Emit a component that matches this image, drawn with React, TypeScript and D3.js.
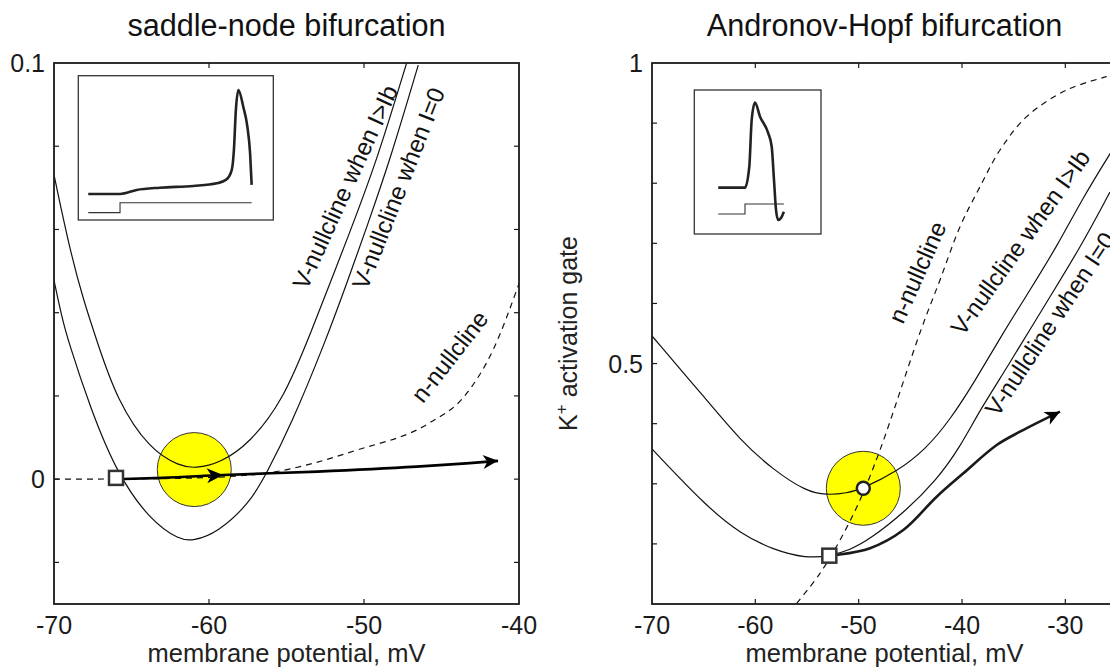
import React from "react";
import * as d3 from "d3";

type Pt = [number, number];

// ---- saddle-node panel (left) ----
const snXTicks = [-70, -60, -50, -40];
const snYTicks = [-0.02, 0, 0.02, 0.04, 0.06, 0.08, 0.1];
const snYLabels = [0, 0.1];

// V-nullcline when I > Ib
const snVnullAbove: Pt[] = [
  [-70, 0.0731], [-68.97, 0.055], [-68.1, 0.043], [-67.25, 0.0334], [-65.95, 0.019],
  [-63.8, 0.007], [-61.87, 0.0031], [-60.9, 0.0026], [-59.3, 0.0038], [-57.35, 0.0087],
  [-55.23, 0.019], [-53.61, 0.0334], [-50.77, 0.0607], [-49.16, 0.0767], [-47.25, 0.1],
];
// V-nullcline when I = 0
const snVnullRest: Pt[] = [
  [-70, 0.0478], [-69.5, 0.039], [-69.1, 0.0334], [-67.68, 0.0173], [-65.95, 0.0014],
  [-63.8, -0.0099], [-61.87, -0.0147], [-61.03, -0.0148], [-59.5, -0.013], [-57.35, -0.0057],
  [-56.28, 0.0015], [-54.77, 0.0125], [-52.45, 0.0334], [-51.03, 0.0479], [-49.81, 0.0607],
  [-48.32, 0.0767], [-46.5, 0.0995],
];
const snNnull: Pt[] = [
  [-70, 0], [-64, 0.0001], [-60, 0.0004], [-58, 0.0008], [-56.2, 0.0015], [-50.45, 0.007],
  [-45.83, 0.0134], [-43.55, 0.0198], [-41.68, 0.031], [-40, 0.047],
];
const snTrajectory: Pt[] = [
  [-65.95, 0], [-63, 0.0003], [-59.1, 0.001], [-53, 0.0018], [-46.6, 0.003], [-43.4, 0.0038], [-41.35, 0.0044],
];
const snNode: Pt = [-66, 0.0003];
const snSpot: Pt = [-60.95, 0.0023];
// inset: time 0..100, voltage / current 0..100 of the inset box
const snInsetVoltage: Pt[] = [
  [5.1, 18], [21.4, 18], [29.9, 20.8], [41.9, 22.4], [59, 23.6], [71, 25.4], [76.1, 28.2],
  [78.7, 34.7], [79.8, 48.5], [80.8, 76.2], [82.1, 90.1], [84.6, 78.5], [86.7, 64.7], [88.1, 46.2], [88.9, 24.3],
];
const snInsetCurrent: Pt[] = [[5.1, 5.1], [21.4, 5.1], [21.4, 12], [88.9, 12]];

// ---- Andronov-Hopf panel (right) ----
const ahXTicks = [-70, -60, -50, -40, -30];
const ahYTicks = [0.2, 0.3, 0.4, 0.5, 0.6, 0.7, 0.8, 0.9, 1];
const ahYLabels = [0.5, 1];

const ahVnullAbove: Pt[] = [
  [-70, 0.5459], [-64.71, 0.4394], [-61.48, 0.3728], [-58.26, 0.3229], [-55.03, 0.2868],
  [-53.09, 0.2813], [-51.16, 0.2842], [-49.55, 0.2925], [-46.32, 0.3201], [-43.58, 0.3562],
  [-41.16, 0.4061], [-38.74, 0.471], [-36.32, 0.5425], [-33.42, 0.6224], [-30.83, 0.6944],
  [-28.26, 0.7771], [-25.65, 0.8498],
];
const ahVnullRest: Pt[] = [
  [-70, 0.3579], [-64.71, 0.2619], [-61.48, 0.2176], [-58.26, 0.1898], [-55.03, 0.176],
  [-52.84, 0.1799], [-50.84, 0.1898], [-48.9, 0.2081], [-45.68, 0.2509], [-42.45, 0.3063],
  [-40.19, 0.3612], [-38.26, 0.4227], [-35.67, 0.4926], [-31.8, 0.6024], [-28.58, 0.6922], [-25.68, 0.7854],
];
const ahNnull: Pt[] = [
  [-56, 0.101], [-53.74, 0.151], [-51.8, 0.2065], [-49.87, 0.273], [-47.94, 0.356], [-43.97, 0.556],
  [-42.13, 0.639], [-40.19, 0.7277], [-38.26, 0.7942], [-36.32, 0.8553], [-33.74, 0.9107],
  [-29.87, 0.9551], [-26, 0.9772],
];
const ahTrajectory: Pt[] = [
  [-52.84, 0.1804], [-52.13, 0.1815], [-48.9, 0.1928], [-45.68, 0.2231], [-42.45, 0.2785],
  [-39.87, 0.3174], [-36.64, 0.3645], [-34.39, 0.3866], [-30.52, 0.42],
];
const ahNode: Pt = [-52.84, 0.1804];
const ahFocus: Pt = [-49.55, 0.2925];
const ahInsetVoltage: Pt[] = [
  [18.9, 32.2], [40, 32.2], [43.4, 46.7], [45.3, 79.2], [47.9, 91.2], [51.9, 81.5], [58.4, 69.9],
  [61.1, 60.6], [62.9, 37.5], [64.5, 16.7], [66.2, 9.7], [68.4, 11.1], [70.7, 15.5],
];
const ahInsetCurrent: Pt[] = [[18.9, 13.9], [40, 13.9], [40, 20.8], [70.7, 20.8]];

const FONT = "'Liberation Sans', Arial, Helvetica, sans-serif";
const INK = "#1a1a1a";
const W = 1110;
const H = 667;

type Box = { x0: number; x1: number; y0: number; y1: number };
type Scale = d3.ScaleLinear<number, number>;

function Arrowhead({ from, to, size = 15 }: { from: Pt; to: Pt; size?: number }) {
  const a = (Math.atan2(to[1] - from[1], to[0] - from[0]) * 180) / Math.PI;
  return (
    <path
      d={`M0,0 L${-size},${-size * 0.47} L${-size * 0.72},0 L${-size},${size * 0.47} Z`}
      transform={`translate(${to[0]},${to[1]}) rotate(${a})`}
      fill="#000"
    />
  );
}

function Inset({ box, voltage, current }: { box: Box; voltage: Pt[]; current: Pt[] }) {
  const x = d3.scaleLinear().domain([0, 100]).range([box.x0, box.x1]);
  const y = d3.scaleLinear().domain([0, 100]).range([box.y1, box.y0]);
  const smooth = d3.line<Pt>().x((d) => x(d[0])).y((d) => y(d[1])).curve(d3.curveMonotoneX);
  const step = d3.line<Pt>().x((d) => x(d[0])).y((d) => y(d[1]));
  return (
    <g>
      <rect x={box.x0} y={box.y0} width={box.x1 - box.x0} height={box.y1 - box.y0} fill="#fff" stroke="#333" strokeWidth={1.3} />
      <path d={step(current) ?? ""} fill="none" stroke="#333" strokeWidth={1.1} />
      <path d={smooth(voltage) ?? ""} fill="none" stroke="#222" strokeWidth={2.6} strokeLinejoin="round" />
    </g>
  );
}

function Frame({
  id, box, xDomain, yDomain, xTicks, yTicks, yLabels, title, children,
}: {
  id: string; box: Box; xDomain: [number, number]; yDomain: [number, number];
  xTicks: number[]; yTicks: number[]; yLabels: number[]; title: string;
  children: (x: Scale, y: Scale) => React.ReactNode;
}) {
  const x = d3.scaleLinear().domain(xDomain).range([box.x0, box.x1]);
  const y = d3.scaleLinear().domain(yDomain).range([box.y1, box.y0]);
  const tk = 5;
  const innerX = xTicks.filter((t) => t > xDomain[0] && t < xDomain[1]);
  const innerY = yTicks.filter((t) => t > yDomain[0] && t < yDomain[1]);
  return (
    <g>
      <defs>
        <clipPath id={id}>
          <rect x={box.x0} y={box.y0} width={box.x1 - box.x0} height={box.y1 - box.y0} />
        </clipPath>
      </defs>
      <g clipPath={`url(#${id})`}>{children(x, y)}</g>
      <rect x={box.x0} y={box.y0} width={box.x1 - box.x0} height={box.y1 - box.y0} fill="none" stroke={INK} strokeWidth={1.8} />
      {innerX.map((t) => (
        <g key={`x${t}`} stroke={INK} strokeWidth={1.2}>
          <line x1={x(t)} x2={x(t)} y1={box.y1} y2={box.y1 - tk} />
          <line x1={x(t)} x2={x(t)} y1={box.y0} y2={box.y0 + tk} />
        </g>
      ))}
      {innerY.map((t) => (
        <g key={`y${t}`} stroke={INK} strokeWidth={1.2}>
          <line x1={box.x0} x2={box.x0 + tk} y1={y(t)} y2={y(t)} />
          <line x1={box.x1} x2={box.x1 - tk} y1={y(t)} y2={y(t)} />
        </g>
      ))}
      {xTicks.map((t) => (
        <text key={`xl${t}`} x={x(t)} y={box.y1 + 30} textAnchor="middle" fontSize={25} fill={INK}>
          {String(t)}
        </text>
      ))}
      {yLabels.map((t) => (
        <text key={`yl${t}`} x={box.x0 - 9} y={y(t)} textAnchor="end" dominantBaseline="central" fontSize={25} fill={INK}>
          {String(t)}
        </text>
      ))}
      <text x={(box.x0 + box.x1) / 2} y={box.y1 + 58} textAnchor="middle" fontSize={25.5} fill="#222">
        membrane potential, mV
      </text>
      <text x={(box.x0 + box.x1) / 2} y={36} textAnchor="middle" fontSize={30.6} fill="#111">
        {title}
      </text>
    </g>
  );
}

function CurveLabel({ at, angle, text }: { at: Pt; angle: number; text: string }) {
  return (
    <text transform={`translate(${at[0]},${at[1]}) rotate(${angle})`} fontSize={24} fill="#111">
      {text}
    </text>
  );
}

export default function App() {
  const left: Box = { x0: 54, x1: 519, y0: 63, y1: 604 };
  const right: Box = { x0: 652, x1: 1117, y0: 63, y1: 604 };
  const R = 37;

  return (
    <div style={{ position: "absolute", left: 0, top: 0 }}>
      <svg width={W} height={H} viewBox={`0 0 ${W} ${H}`} fontFamily={FONT} style={{ display: "block", background: "#fff" }}>
        <Frame id="clip-sn" box={left} xDomain={[-70, -40]} yDomain={[-0.03, 0.1]} xTicks={snXTicks} yTicks={snYTicks} yLabels={snYLabels} title="saddle-node bifurcation">
          {(x, y) => {
            const smooth = d3.line<Pt>().x((d) => x(d[0])).y((d) => y(d[1])).curve(d3.curveBasis);
            const line = d3.line<Pt>().x((d) => x(d[0])).y((d) => y(d[1])).curve(d3.curveMonotoneX);
            const tp = snTrajectory.map((d) => [x(d[0]), y(d[1])] as Pt);
            const n = tp.length;
            return (
              <g>
                <circle cx={x(snSpot[0])} cy={y(snSpot[1])} r={R} fill="#ffff00" stroke="#333" strokeWidth={1} />
                <path d={smooth(snVnullAbove) ?? ""} fill="none" stroke="#111" strokeWidth={1.2} />
                <path d={smooth(snVnullRest) ?? ""} fill="none" stroke="#111" strokeWidth={1.2} />
                <path d={line(snNnull) ?? ""} fill="none" stroke="#111" strokeWidth={1.2} strokeDasharray="6,5" />
                <path d={line(snTrajectory) ?? ""} fill="none" stroke="#000" strokeWidth={2.6} />
                <Arrowhead from={tp[1]} to={tp[2]} size={16} />
                <Arrowhead from={tp[n - 2]} to={tp[n - 1]} />
                <rect x={x(snNode[0]) - 7} y={y(snNode[1]) - 7} width={14} height={14} fill="#fff" stroke="#333" strokeWidth={2.5} />
              </g>
            );
          }}
        </Frame>
        {(() => {
          const x = d3.scaleLinear().domain([-70, -40]).range([left.x0, left.x1]);
          const y = d3.scaleLinear().domain([-0.03, 0.1]).range([left.y1, left.y0]);
          return (
            <g>
              <CurveLabel at={[x(-53.68), y(0.0452)]} angle={-65.5} text={"V-nullcline when I>Ib"} />
              <CurveLabel at={[x(-49.81), y(0.0452)]} angle={-68.5} text={"V-nullcline when I=0"} />
              <CurveLabel at={[x(-46.19), y(0.018)]} angle={-52} text="n-nullcline" />
            </g>
          );
        })()}
        <Inset box={{ x0: 78.3, x1: 273.3, y0: 75.7, y1: 220 }} voltage={snInsetVoltage} current={snInsetCurrent} />

        <Frame id="clip-ah" box={right} xDomain={[-70, -25]} yDomain={[0.1, 1]} xTicks={ahXTicks} yTicks={ahYTicks} yLabels={ahYLabels} title="Andronov-Hopf bifurcation">
          {(x, y) => {
            const smooth = d3.line<Pt>().x((d) => x(d[0])).y((d) => y(d[1])).curve(d3.curveBasis);
            const poly = d3.line<Pt>().x((d) => x(d[0])).y((d) => y(d[1])).curve(d3.curveCatmullRom.alpha(0.5));
            const tp = ahTrajectory.map((d) => [x(d[0]), y(d[1])] as Pt);
            const n = tp.length;
            return (
              <g>
                <circle cx={x(ahFocus[0])} cy={y(ahFocus[1])} r={R} fill="#ffff00" stroke="#333" strokeWidth={1} />
                <path d={smooth(ahVnullAbove) ?? ""} fill="none" stroke="#111" strokeWidth={1.2} />
                <path d={smooth(ahVnullRest) ?? ""} fill="none" stroke="#111" strokeWidth={1.2} />
                <path d={poly(ahNnull) ?? ""} fill="none" stroke="#111" strokeWidth={1.2} strokeDasharray="6,5" />
                <path d={poly(ahTrajectory) ?? ""} fill="none" stroke="#1a1a1a" strokeWidth={2.6} strokeLinejoin="round" />
                <Arrowhead from={tp[n - 2]} to={tp[n - 1]} />
                <rect x={x(ahNode[0]) - 7} y={y(ahNode[1]) - 7} width={14} height={14} fill="#fff" stroke="#333" strokeWidth={2.5} />
                <circle cx={x(ahFocus[0])} cy={y(ahFocus[1])} r={6.5} fill="#fff" stroke="#222" strokeWidth={2.5} />
              </g>
            );
          }}
        </Frame>
        {(() => {
          const x = d3.scaleLinear().domain([-70, -25]).range([right.x0, right.x1]);
          const y = d3.scaleLinear().domain([0.1, 1]).range([right.y1, right.y0]);
          return (
            <g>
              <CurveLabel at={[x(-45.71), y(0.564)]} angle={-66} text="n-nullcline" />
              <CurveLabel at={[x(-39.9), y(0.544)]} angle={-54.5} text={"V-nullcline when I>Ib"} />
              <CurveLabel at={[x(-36.53), y(0.4096)]} angle={-56.5} text={"V-nullcline when I=0"} />
            </g>
          );
        })()}
        <Inset box={{ x0: 694.3, x1: 821, y0: 90, y1: 234 }} voltage={ahInsetVoltage} current={ahInsetCurrent} />

        <text transform={`translate(577,${(right.y0 + right.y1) / 2}) rotate(-90)`} textAnchor="middle" fontSize={25} fill="#222">
          <tspan>K</tspan>
          <tspan fontSize={17} dy={-10}>+</tspan>
          <tspan dy={10}> activation gate</tspan>
        </text>
      </svg>
    </div>
  );
}
